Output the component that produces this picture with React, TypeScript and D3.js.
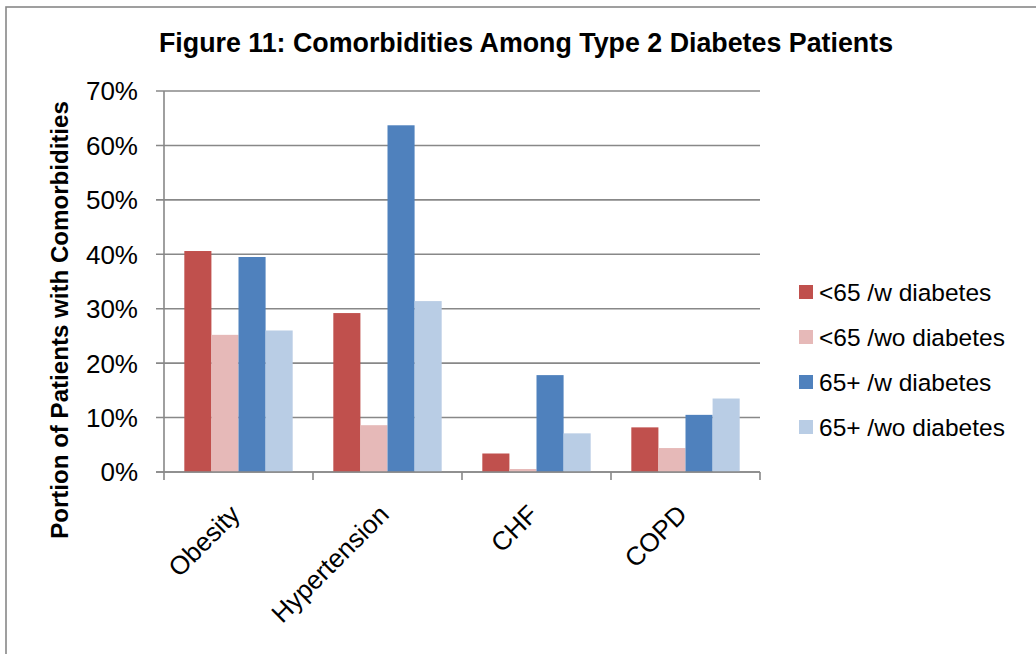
import React from "react";
import * as d3 from "d3";

const categories = ["Obesity", "Hypertension", "CHF", "COPD"];
const seriesNames = ["<65 /w diabetes", "<65 /wo diabetes", "65+ /w diabetes", "65+ /wo diabetes"];
const seriesColors = ["#C0504D", "#E6B9B8", "#4F81BD", "#B9CDE5"];
// percentage of patients per category, one array per series
const under65WithDiabetes = [40.6, 29.2, 3.4, 8.2];
const under65WithoutDiabetes = [25.2, 8.6, 0.55, 4.4];
const over65WithDiabetes = [39.5, 63.7, 17.8, 10.5];
const over65WithoutDiabetes = [26.0, 31.4, 7.1, 13.5];
const yTicks = [0, 10, 20, 30, 40, 50, 60, 70];

const seriesValues = [under65WithDiabetes, under65WithoutDiabetes, over65WithDiabetes, over65WithoutDiabetes];

const W = 1036;
const H = 654;
const plot = { left: 164, right: 760, top: 91, bottom: 472 };
const font = "Arial, 'Liberation Sans', Helvetica, sans-serif";
const gridColor = "#888888";

export default function App() {
  const x = d3.scaleBand<string>().domain(categories).range([plot.left, plot.right]).paddingInner(0).paddingOuter(0);
  const y = d3.scaleLinear().domain([0, 70]).range([plot.bottom, plot.top]);
  const bw = x.bandwidth() / 5.5;
  const inner = d3.scaleBand<number>().domain(d3.range(seriesNames.length)).range([0, bw * 4]);
  const groupOffset = (x.bandwidth() - bw * 4) / 2;
  const catBounds = [...categories.map((c) => x(c) as number), plot.right];

  return (
    <svg width={W} height={H} style={{ position: "absolute", left: 0, top: 0, background: "#fff" }}>
      <rect x={0} y={0} width={W} height={H} fill="#fff" />
      {/* outer frame */}
      <rect x={6} y={7} width={W + 20} height={H + 20} fill="none" stroke={gridColor} strokeWidth={1.6} />

      <text x={526} y={52} textAnchor="middle" fontFamily={font} fontWeight="bold" fontSize={26.8} fill="#000">
        Figure 11: Comorbidities Among Type 2 Diabetes Patients
      </text>

      {/* gridlines with left tick marks */}
      {yTicks.map((t) => (
        <g key={t}>
          <line x1={plot.left - 8} x2={plot.right} y1={y(t)} y2={y(t)} stroke={gridColor} strokeWidth={1.6} />
          <text x={138} y={y(t)} dy="0.36em" textAnchor="end" fontFamily={font} fontSize={26} fill="#000">
            {`${t}%`}
          </text>
        </g>
      ))}
      <line x1={plot.left} x2={plot.left} y1={plot.top} y2={plot.bottom} stroke={gridColor} strokeWidth={1.6} />

      {/* bars */}
      {categories.map((c, ci) => (
        <g key={c}>
          {seriesValues.map((vals, si) => (
            <rect
              key={si}
              x={(x(c) as number) + groupOffset + (inner(si) as number)}
              y={y(vals[ci])}
              width={bw}
              height={plot.bottom - y(vals[ci])}
              fill={seriesColors[si]}
            />
          ))}
        </g>
      ))}

      {/* category ticks */}
      {catBounds.map((bx, i) => (
        <line key={i} x1={bx} x2={bx} y1={plot.bottom} y2={plot.bottom + 8} stroke={gridColor} strokeWidth={1.6} />
      ))}
      <line x1={plot.left - 8} x2={plot.right} y1={plot.bottom} y2={plot.bottom} stroke={gridColor} strokeWidth={1.6} />

      {/* rotated category labels */}
      {categories.map((c) => {
        const cx = (x(c) as number) + x.bandwidth() / 2 + 3;
        const cy = 516;
        return (
          <text
            key={c}
            x={cx}
            y={cy}
            transform={`rotate(-45, ${cx}, ${cy})`}
            textAnchor="end"
            fontFamily={font}
            fontSize={26}
            fill="#000"
          >
            {c}
          </text>
        );
      })}

      {/* y axis title */}
      <text
        x={68}
        y={320}
        transform="rotate(-90, 68, 320)"
        textAnchor="middle"
        fontFamily={font}
        fontWeight="bold"
        fontSize={24.1}
        fill="#000"
      >
        Portion of Patients with Comorbidities
      </text>

      {/* legend */}
      {seriesNames.map((s, i) => {
        const cy = 292 + i * 45;
        return (
          <g key={s}>
            <rect x={799} y={cy - 7} width={14} height={14} fill={seriesColors[i]} />
            <text x={819} y={cy} dy="0.36em" fontFamily={font} fontSize={24.5} fill="#000">
              {s}
            </text>
          </g>
        );
      })}
    </svg>
  );
}
